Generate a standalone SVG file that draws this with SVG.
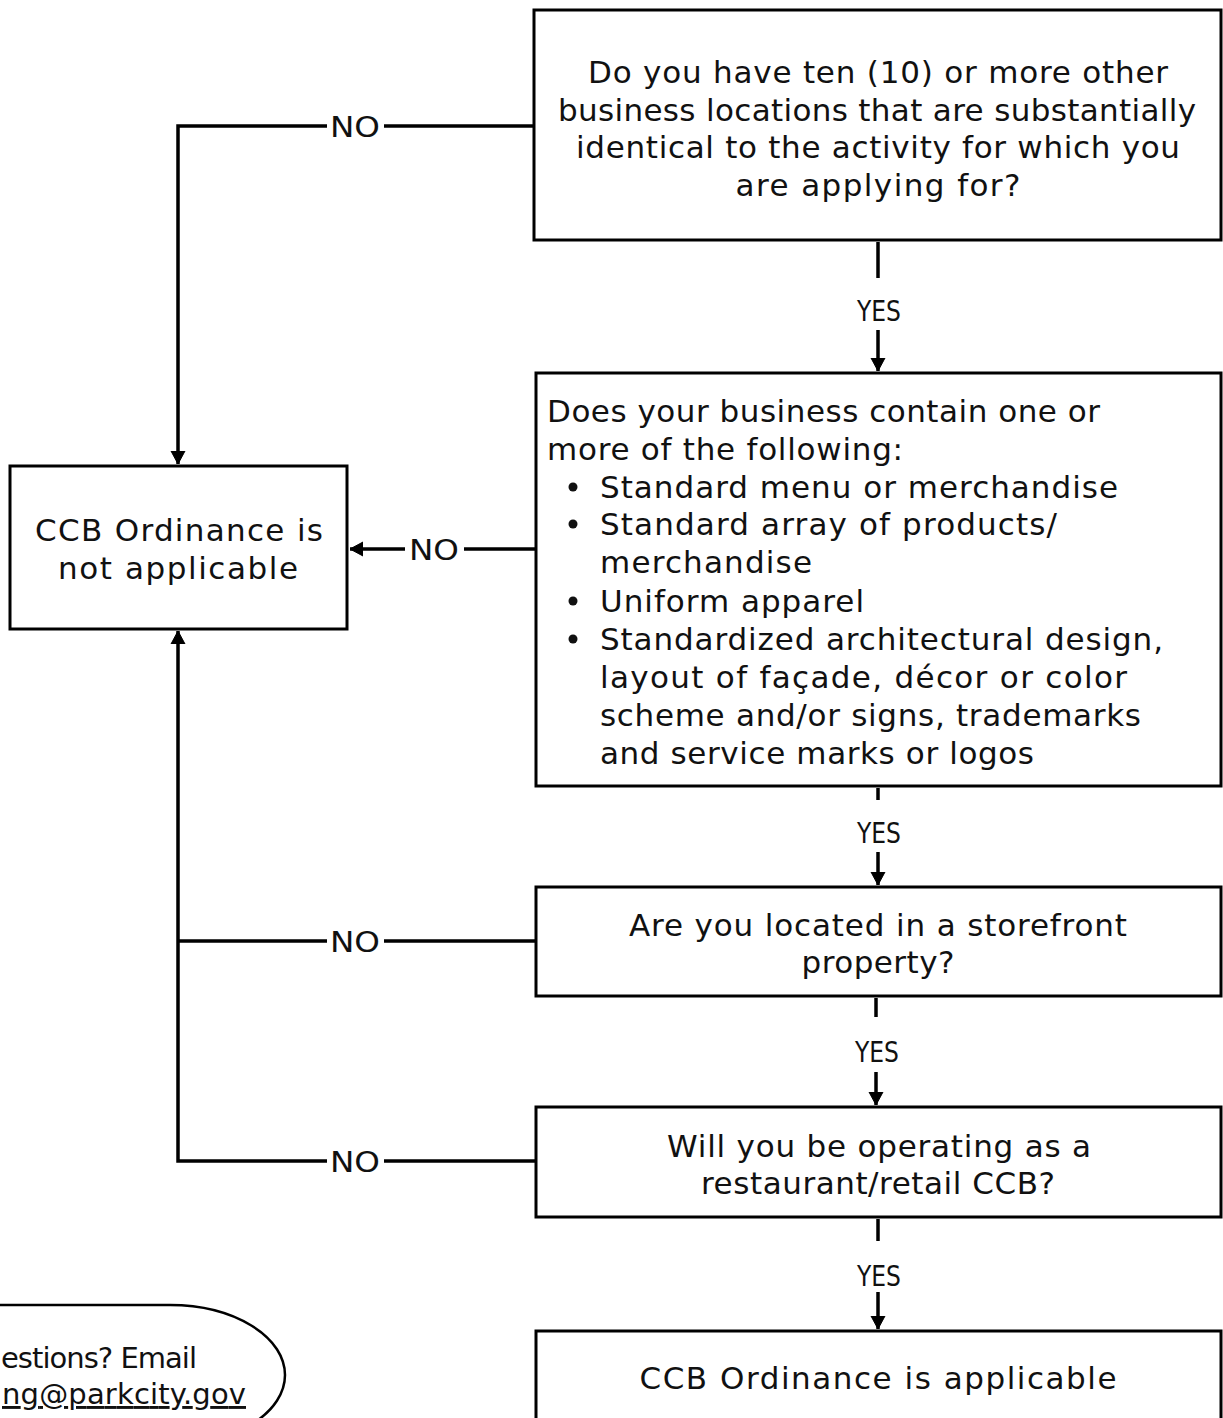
<svg xmlns="http://www.w3.org/2000/svg" width="1223" height="1418" viewBox="0 0 1223 1418">
<style>
.box{fill:#fff;stroke:#000;stroke-width:3}
.t{font-family:"DejaVu Sans",sans-serif;font-size:31px;fill:#111}
.c{text-anchor:middle}
.lbl{font-family:"DejaVu Sans",sans-serif;font-size:29px;fill:#111;text-anchor:middle}
.ln{fill:none;stroke:#000;stroke-width:3.5}
</style>
<defs>
<marker id="ah" markerUnits="userSpaceOnUse" markerWidth="15" markerHeight="16" refX="13" refY="8" orient="auto">
<path d="M0,1 L13,8 L0,15 Z" fill="#000" stroke="#000" stroke-width="1" stroke-linejoin="round"/>
</marker>
</defs>
<rect width="1223" height="1418" fill="#fff"/>
<g id="connectors">
<path class="ln" d="M533 126 H384"/>
<path class="ln" d="M327 126 H178 V464" marker-end="url(#ah)"/>
<text class="lbl" x="355" y="137" textLength="50" lengthAdjust="spacingAndGlyphs">NO</text>
<path class="ln" d="M535 549 H464"/>
<path class="ln" d="M405 549 H350" marker-end="url(#ah)"/>
<text class="lbl" x="434" y="560" textLength="50" lengthAdjust="spacingAndGlyphs">NO</text>
<path class="ln" d="M535 941 H384 M327 941 H178"/>
<text class="lbl" x="355" y="952" textLength="50" lengthAdjust="spacingAndGlyphs">NO</text>
<path class="ln" d="M535 1161 H384"/>
<path class="ln" d="M327 1161 H178 V631" marker-end="url(#ah)"/>
<text class="lbl" x="355" y="1172" textLength="50" lengthAdjust="spacingAndGlyphs">NO</text>
<path class="ln" d="M878 242 V278"/>
<path class="ln" d="M878 330 V371" marker-end="url(#ah)"/>
<text class="lbl" x="879" y="321" textLength="44" lengthAdjust="spacingAndGlyphs">YES</text>
<path class="ln" d="M878 788 V800"/>
<path class="ln" d="M878 852 V885" marker-end="url(#ah)"/>
<text class="lbl" x="879" y="843" textLength="44" lengthAdjust="spacingAndGlyphs">YES</text>
<path class="ln" d="M876 998 V1017"/>
<path class="ln" d="M876 1072 V1105" marker-end="url(#ah)"/>
<text class="lbl" x="877" y="1062" textLength="44" lengthAdjust="spacingAndGlyphs">YES</text>
<path class="ln" d="M878 1219 V1241"/>
<path class="ln" d="M878 1292 V1329" marker-end="url(#ah)"/>
<text class="lbl" x="879" y="1286" textLength="44" lengthAdjust="spacingAndGlyphs">YES</text>
</g>
<g id="q1">
<rect class="box" x="534" y="10" width="687" height="230"/>
<text class="t c" x="878" y="83" textLength="580">Do you have ten (10) or more other</text>
<text class="t c" x="877" y="121" textLength="638">business locations that are substantially</text>
<text class="t c" x="878" y="158" textLength="604">identical to the activity for which you</text>
<text class="t c" x="878" y="196" textLength="285">are applying for?</text>
</g>
<g id="q2">
<rect class="box" x="536" y="373" width="685" height="413"/>
<text class="t" x="547" y="422" textLength="553">Does your business contain one or</text>
<text class="t" x="547" y="460" textLength="356">more of the following:</text>
<circle cx="573" cy="487" r="4.5" fill="#111"/>
<text class="t" x="600" y="498" textLength="518">Standard menu or merchandise</text>
<circle cx="573" cy="524" r="4.5" fill="#111"/>
<text class="t" x="600" y="535" textLength="457">Standard array of products/</text>
<text class="t" x="600" y="573" textLength="212">merchandise</text>
<circle cx="573" cy="601" r="4.5" fill="#111"/>
<text class="t" x="600" y="612" textLength="264">Uniform apparel</text>
<circle cx="573" cy="639" r="4.5" fill="#111"/>
<text class="t" x="600" y="650" textLength="563">Standardized architectural design,</text>
<text class="t" x="600" y="688" textLength="527">layout of façade, décor or color</text>
<text class="t" x="600" y="726" textLength="541">scheme and/or signs, trademarks</text>
<text class="t" x="600" y="764" textLength="434">and service marks or logos</text>
</g>
<g id="q3">
<rect class="box" x="536" y="887" width="685" height="109"/>
<text class="t c" x="878" y="936" textLength="498">Are you located in a storefront</text>
<text class="t c" x="878" y="973" textLength="153">property?</text>
</g>
<g id="q4">
<rect class="box" x="536" y="1107" width="685" height="110"/>
<text class="t c" x="879" y="1157" textLength="424">Will you be operating as a</text>
<text class="t c" x="878" y="1194" textLength="354">restaurant/retail CCB?</text>
</g>
<g id="applicable">
<rect class="box" x="536" y="1331" width="685" height="100"/>
<text class="t c" x="878" y="1389" textLength="477">CCB Ordinance is applicable</text>
</g>
<g id="notapplicable">
<rect class="box" x="10" y="466" width="337" height="163"/>
<text class="t c" x="179" y="541" textLength="288">CCB Ordinance is</text>
<text class="t c" x="178" y="579" textLength="240">not applicable</text>
</g>
<g id="contact">
<path d="M-10 1305 H170 A115 70 0 0 1 170 1445 H-10" fill="#fff" stroke="#000" stroke-width="2.5"/>
<text class="t" x="1" y="1368" style="font-size:29px" textLength="196">estions? Email</text>
<text class="t" x="2" y="1404" style="font-size:29px" textLength="244" text-decoration="underline">ng@parkcity.gov</text>
</g>
</svg>
